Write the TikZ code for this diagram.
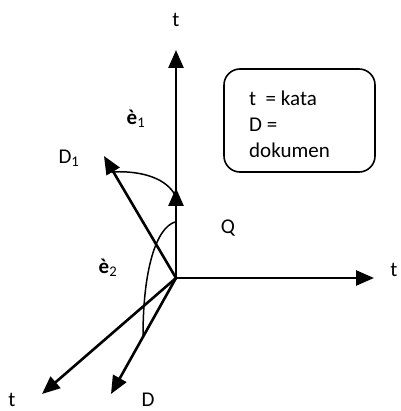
\documentclass[tikz,border=0pt]{standalone}
\usepackage{fontspec}
\setmainfont{Carlito}
\usetikzlibrary{arrows.meta}
\begin{document}
\begin{tikzpicture}[x=1pt,y=-1pt,
  vec/.style={line width=2.6pt,-{Triangle[length=18pt,width=15pt]}},
  arcline/.style={line width=1.5pt},
  lbl/.style={inner sep=0pt,font=\fontsize{21}{26}\selectfont},
  legend/.style={draw,line width=1.6pt,rounded corners=16pt,minimum width=151pt,minimum height=103pt,inner sep=0pt}]
\useasboundingbox (0,0) rectangle (400,411);
\coordinate (O) at (176,278);
\coordinate (Ttop) at (176,50);
\coordinate (Q) at (176,188);
\coordinate (Tright) at (374,278);
\coordinate (D1) at (104,156);
\coordinate (Tleft) at (42,394);
\coordinate (Dv) at (111,394);
\coordinate (a1s) at (110,172);
\coordinate (a1e) at (175,195);
\coordinate (a2s) at (175,222);
\coordinate (a2e) at (143,336);
% vectors
\draw[vec] (O) -- (Ttop);
\draw[vec] (O) -- (Q);
\draw[vec] (O) -- (Tright);
\draw[vec] (O) -- (D1);
\draw[vec] (O) -- (Tleft);
\draw[vec] (O) -- (Dv);
% angle arcs
\draw[arcline] (a1s) .. controls (145,170) and (167,180) .. (a1e);
\draw[arcline] (a2s) .. controls (156,228) and (143,270) .. (a2e);
% labels
\node[lbl] (lt1) at (176,20) {t};
\node[lbl] (lt2) at (394,270) {t};
\node[lbl] (lt3) at (12,400) {t};
\node[lbl] (lD) at (148,400) {D};
\node[lbl] (lD1) at (69,158) {D\textsubscript{1}};
\node[lbl] (lQ) at (228,228) {Q};
\node[lbl] (le1) at (136,119) {\textbf{è}\textsubscript{1}};
\node[lbl] (le2) at (108,268) {\textbf{è}\textsubscript{2}};
% legend box
\node[legend] (box) at (299.5,120.5) {};
\node[lbl,anchor=north west,align=left,font=\fontsize{21}{26}\selectfont] (txt) at (249,91) {t\ \ = kata\\D =\\dokumen};
\end{tikzpicture}
\end{document}
